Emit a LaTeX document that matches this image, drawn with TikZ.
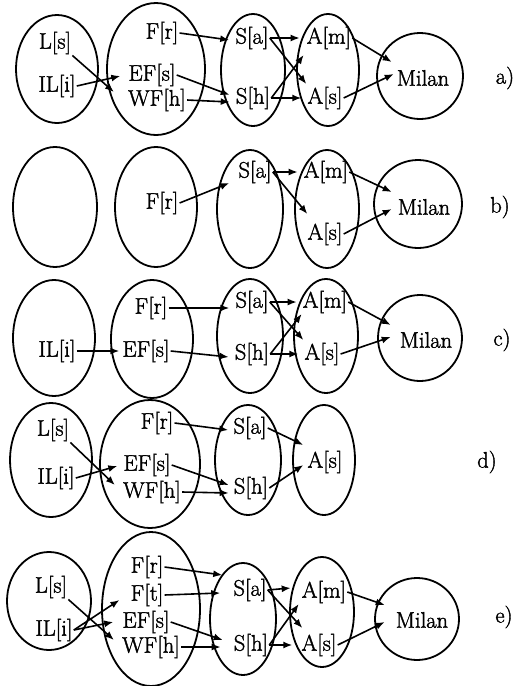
\documentclass[tikz,border=0pt]{standalone}
\usepackage{fontspec}
\newfontfamily\heavyfont[FakeBold=1.6]{Latin Modern Roman}
\usetikzlibrary{shapes.geometric,arrows.meta,calc}
\tikzset{
  oval/.style={ellipse,draw,line width=1.8pt,inner sep=0pt},
  txt/.style={inner sep=1pt,font=\heavyfont\fontsize{22.5}{27}\selectfont},
  arw/.style={line width=1.6pt,-{Latex[length=9pt,width=7pt]}}
}
\newcommand\myarr[4]{\draw[arw] (#1.#2) -- ($(#3.west)+(#4)$);}
\begin{document}
\begin{tikzpicture}[x=1pt,y=-1pt]
\useasboundingbox (0,0) rectangle (520,686);
% ---------------- panel a ----------------
\node[oval,minimum width=82pt,minimum height=108pt] (aE1) at (57,69) {};
\node[oval,minimum width=98pt,minimum height=132pt] (aE2) at (156,69) {};
\node[oval,minimum width=64pt,minimum height=112pt] (aE3) at (253,70) {};
\node[oval,minimum width=62pt,minimum height=112pt] (aE4) at (328,70) {};
\node[oval,minimum width=86pt,minimum height=86pt] (aE5) at (420,76) {};
\node[txt] (aLs) at (55,43) {L[s]};
\node[txt] (aIL) at (57,86) {IL[i]};
\node[txt] (aFr) at (162,33) {F[r]};
\node[txt] (aEF) at (152,75) {EF[s]};
\node[txt] (aWF) at (157,100) {WF[h]};
\node[txt] (aSa) at (252,38) {S[a]};
\node[txt] (aSh) at (253,98) {S[h]};
\node[txt] (aAm) at (329,38) {A[m]};
\node[txt] (aAs) at (325,98) {A[s]};
\node[txt] (aMi) at (423,78) {Milan};
\node[txt] (aLab) at (505,78) {a)};
\myarr{aLs}{south east}{aWF}{-13,-8}
\myarr{aIL}{east}{aEF}{-7,1}
\myarr{aFr}{east}{aSa}{-5,2}
\myarr{aEF}{east}{aSh}{-5,-3}
\myarr{aWF}{east}{aSh}{-5,4}
\myarr{aSa}{east}{aAm}{-6,0}
\myarr{aSa}{east}{aAs}{0,-14}
\myarr{aSh}{east}{aAm}{-2,17}
\myarr{aSh}{east}{aAs}{-5,0}
\myarr{aAm}{east}{aMi}{-4,-16}
\myarr{aAs}{east}{aMi}{-2,-4}
% ---------------- panel b ----------------
\node[oval,minimum width=84pt,minimum height=120pt] (bE1) at (55,207) {};
\node[oval,minimum width=82pt,minimum height=120pt] (bE2) at (156,207) {};
\node[oval,minimum width=66pt,minimum height=118pt] (bE3) at (250,209) {};
\node[oval,minimum width=64pt,minimum height=118pt] (bE4) at (327,209) {};
\node[oval,minimum width=88pt,minimum height=88pt] (bE5) at (418,204) {};
\node[txt] (bFr) at (162,203) {F[r]};
\node[txt] (bSa) at (255,172) {S[a]};
\node[txt] (bAm) at (326,172) {A[m]};
\node[txt] (bAs) at (325,234) {A[s]};
\node[txt] (bMi) at (424,207) {Milan};
\node[txt] (bLab) at (500,207) {b)};
\myarr{bFr}{east}{bSa}{-8,11}
\myarr{bSa}{east}{bAm}{-5,0}
\myarr{bSa}{east}{bAs}{1,-20}
\myarr{bAm}{east}{bMi}{-5,-15}
\myarr{bAs}{east}{bMi}{-5,2}
% ---------------- panel c ----------------
\node[oval,minimum width=82pt,minimum height=116pt] (cE1) at (54,338) {};
\node[oval,minimum width=82pt,minimum height=118pt] (cE2) at (152,339) {};
\node[oval,minimum width=66pt,minimum height=114pt] (cE3) at (250,336) {};
\node[oval,minimum width=64pt,minimum height=114pt] (cE4) at (326,336) {};
\node[oval,minimum width=84pt,minimum height=86pt] (cE5) at (420,338) {};
\node[txt] (cIL) at (57,351) {IL[i]};
\node[txt] (cEF) at (146,351) {EF[s]};
\node[txt] (cFr) at (151,308) {F[r]};
\node[txt] (cSa) at (252,302) {S[a]};
\node[txt] (cSh) at (252,354) {S[h]};
\node[txt] (cAm) at (325,302) {A[m]};
\node[txt] (cAs) at (322,354) {A[s]};
\node[txt] (cMi) at (426,340) {Milan};
\node[txt] (cLab) at (502,340) {c)};
\myarr{cIL}{east}{cEF}{-2,0}
\myarr{cFr}{east}{cSa}{-5,6}
\myarr{cEF}{east}{cSh}{-5,3}
\myarr{cSa}{east}{cAm}{-5,0}
\myarr{cSa}{east}{cAs}{0,-14}
\myarr{cSh}{east}{cAm}{0,12}
\myarr{cSh}{east}{cAs}{-5,0}
\myarr{cAm}{east}{cMi}{-8,-15}
\myarr{cAs}{east}{cMi}{-8,-3}
% ---------------- panel d ----------------
\node[oval,minimum width=82pt,minimum height=114pt] (dE1) at (51,460) {};
\node[oval,minimum width=100pt,minimum height=128pt] (dE2) at (150,464) {};
\node[oval,minimum width=66pt,minimum height=110pt] (dE3) at (248,460) {};
\node[oval,minimum width=62pt,minimum height=110pt] (dE4) at (324,460) {};
\node[txt] (dLs) at (53,430) {L[s]};
\node[txt] (dIL) at (56,478) {IL[i]};
\node[txt] (dFr) at (157,423) {F[r]};
\node[txt] (dEF) at (147,465) {EF[s]};
\node[txt] (dWF) at (152,492) {WF[h]};
\node[txt] (dSa) at (250,428) {S[a]};
\node[txt] (dSh) at (251,488) {S[h]};
\node[txt] (dAs) at (325,462) {A[s]};
\node[txt] (dLab) at (487,462) {d)};
\myarr{dLs}{south east}{dWF}{-7,-7}
\myarr{dIL}{east}{dEF}{-5,1}
\myarr{dFr}{east}{dSa}{-4,2}
\myarr{dEF}{east}{dSh}{-4,-3}
\myarr{dWF}{east}{dSh}{-4,5}
\myarr{dSa}{east}{dAs}{-3,-17}
\myarr{dSh}{east}{dAs}{-3,3}
% ---------------- panel e ----------------
\node[oval,minimum width=84pt,minimum height=98pt] (eE1) at (49,601) {};
\node[oval,minimum width=98pt,minimum height=154pt] (eE2) at (151,609) {};
\node[oval,minimum width=66pt,minimum height=112pt] (eE3) at (243,619) {};
\node[oval,minimum width=64pt,minimum height=110pt] (eE4) at (322,612) {};
\node[oval,minimum width=84pt,minimum height=82pt] (eE5) at (417,619) {};
\node[txt] (eLs) at (51,587) {L[s]};
\node[txt] (eIL) at (54,630) {IL[i]};
\node[txt] (eFr) at (147,567) {F[r]};
\node[txt] (eFt) at (147,595) {F[t]};
\node[txt] (eEF) at (146,622) {EF[s]};
\node[txt] (eWF) at (151,647) {WF[h]};
\node[txt] (eSa) at (250,590) {S[a]};
\node[txt] (eSh) at (251,645) {S[h]};
\node[txt] (eAm) at (324,592) {A[m]};
\node[txt] (eAs) at (319,645) {A[s]};
\node[txt] (eMi) at (422,620) {Milan};
\node[txt] (eLab) at (504,617) {e)};
\myarr{eLs}{south east}{eWF}{-7,-7}
\myarr{eIL}{east}{eFt}{-10,5}
\myarr{eIL}{east}{eEF}{-8,0}
\myarr{eFr}{east}{eSa}{-10,-15}
\myarr{eFt}{east}{eSa}{-12,3}
\myarr{eEF}{east}{eSh}{-10,-5}
\myarr{eWF}{east}{eSh}{-12,2}
\myarr{eSa}{east}{eAm}{-10,-4}
\myarr{eSa}{east}{eAs}{2,-17}
\myarr{eSh}{east}{eAm}{-2,12}
\myarr{eSh}{east}{eAs}{-8,0}
\myarr{eAm}{east}{eMi}{-10,-15}
\myarr{eAs}{east}{eMi}{-10,2}
\end{tikzpicture}
\end{document}
